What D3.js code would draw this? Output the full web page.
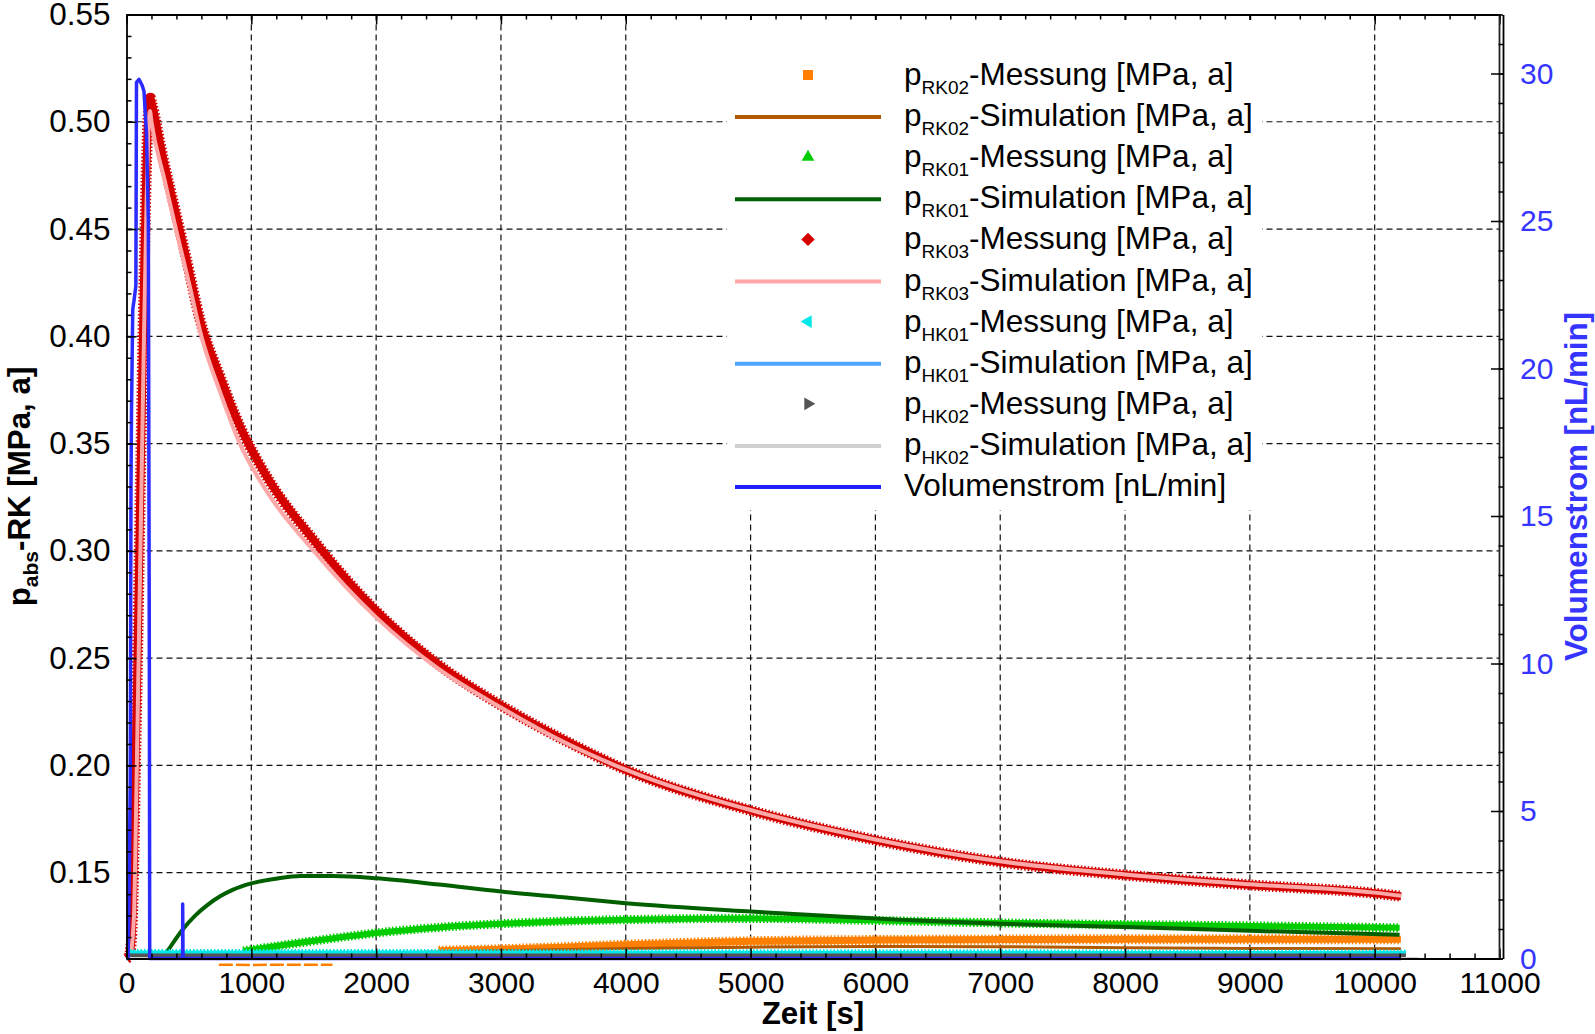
<!DOCTYPE html>
<html>
<head>
<meta charset="utf-8">
<script src="https://cdn.jsdelivr.net/npm/d3@7"></script>
<style>
  body { margin: 0; background: #fff; }
  svg { display: block; font-family: "Liberation Sans", Arial, sans-serif; }
</style>
</head>
<body>
<svg id="chart"></svg>
<script>
// ---- data ----
const xTicks = [0, 1000, 2000, 3000, 4000, 5000, 6000, 7000, 8000, 9000, 10000, 11000]
const yTicks = [0.15, 0.20, 0.25, 0.30, 0.35, 0.40, 0.45, 0.50, 0.55]
const y2Ticks = [0, 5, 10, 15, 20, 25, 30]

// RK02 (orange / brown)
const tRK02low = [740, 1000, 1300, 1650]
const pRK02low = [0.1071, 0.1070, 0.1071, 0.1071]
const tRK02m = [2500, 3000, 3500, 4000, 5000, 6000, 7000, 8000, 9000, 10210]
const pRK02m = [0.1136, 0.1143, 0.1153, 0.1164, 0.1180, 0.1186, 0.1188, 0.1190, 0.1190, 0.1190]
const tRK02s = [0, 1000, 2000, 3000, 4000, 5000, 6000, 7000, 8000, 9000, 10210]
const pRK02s = [0.1105, 0.1112, 0.1125, 0.1137, 0.1147, 0.1153, 0.1156, 0.1155, 0.1150, 0.1147, 0.1145]

// RK01 (green)
const tRK01m = [935, 1200, 1475, 2000, 2500, 3000, 3500, 4000, 5000, 6188, 7000, 8000, 9000, 10200]
const pRK01m = [0.1135, 0.1158, 0.1180, 0.1219, 0.1245, 0.1262, 0.1274, 0.1281, 0.1287, 0.1275, 0.1266, 0.1258, 0.1252, 0.1243]
const tRK01s = [300, 335, 450, 550, 650, 750, 850, 1000, 1200, 1400, 1650, 2000, 2500, 3000, 3500, 4000, 5000, 6188, 7000, 8000, 9000, 10200]
const pRK01s = [0.1110, 0.1140, 0.1235, 0.1300, 0.1350, 0.1390, 0.1420, 0.1450, 0.1472, 0.1484, 0.1484, 0.1474, 0.1445, 0.1412, 0.1385, 0.1358, 0.1319, 0.1281, 0.1262, 0.1247, 0.1229, 0.1211]

// RK03 (red / pink)
const tRK03m = [0, 25, 45, 60, 72, 85, 97, 108, 120, 132, 145, 158, 170, 182, 192, 201, 295, 388, 481, 588, 748, 908, 1121, 1500, 2000, 2500, 3000, 3500, 4000, 5000, 6000, 7000, 8000, 9000, 10000, 10212]
const pRK03m = [0.110, 0.112, 0.125, 0.160, 0.200, 0.240, 0.280, 0.320, 0.360, 0.400, 0.440, 0.475, 0.498, 0.508, 0.511, 0.509, 0.4826, 0.4593, 0.4359, 0.408, 0.3815, 0.3582, 0.3349, 0.305, 0.272, 0.247, 0.228, 0.212, 0.198, 0.179, 0.1652, 0.1550, 0.1489, 0.1443, 0.1404, 0.1390]
const tRK03s = [30, 60, 80, 100, 120, 140, 160, 175, 188, 200, 300, 400, 500, 600, 750, 900, 1120, 1500, 2000, 2500, 3000, 3500, 4000, 5000, 6000, 7000, 8000, 9000, 10000, 10212]
const pRK03s = [0.110, 0.130, 0.190, 0.260, 0.330, 0.400, 0.460, 0.495, 0.505, 0.500, 0.474, 0.449, 0.425, 0.400, 0.374, 0.351, 0.328, 0.300, 0.269, 0.245, 0.227, 0.211, 0.198, 0.1792, 0.1655, 0.1553, 0.1492, 0.1446, 0.1407, 0.1392]

// HK01 (cyan / light blue), HK02 (dark grey / light grey)
const tHK01m = [0, 2000, 4000, 6000, 8000, 10250]
const pHK01m = [0.1128, 0.1128, 0.1127, 0.1127, 0.1126, 0.1126]
const tHK01s = [0, 10250]
const pHK01s = [0.1118, 0.1118]
const tHK02m = [0, 2000, 4000, 6000, 8000, 10250]
const pHK02m = [0.1112, 0.1112, 0.1112, 0.1112, 0.1112, 0.1112]
const tHK02s = [0, 10350]
const pHK02s = [0.1102, 0.1102]

// Volumenstrom [nL/min] (right axis)
const tVol = [0, 12, 20, 30, 36, 40, 50, 60, 75, 80, 100, 125, 140, 160, 175, 183, 186, 450, 450, 453, 10210]
const qVol = [0, 0, 2, 6, 16, 18.5, 22, 22.3, 22.8, 29.7, 29.8, 29.6, 29.4, 28, 25, 10, 0, 0, 1.85, 0, 0]

// ---- layout ----
const width = 1595
const height = 1034
const plotLeft = 126.5, plotRight = 1499.5, plotTop = 14.5, plotBottom = 958.5
const tickFont = 30
const titleFont = 31.3
const legendFont = 31.5

const x = d3.scaleLinear().domain([0, 11000]).range([plotLeft, plotRight])
const y = d3.scaleLinear().domain([0.11, 0.55]).range([plotBottom, plotTop])
const y2 = d3.scaleLinear().domain([0, 32]).range([plotBottom, plotTop])

const svg = d3.select("#chart")
    .attr("width", width)
    .attr("height", height)
    .attr("viewBox", [0, 0, width, height])

// grid
svg.append("g")
    .attr("stroke", "#111")
    .attr("stroke-width", 1.2)
    .attr("stroke-dasharray", "6,4")
  .selectAll("line")
  .data(xTicks.slice(1, -1))
  .join("line")
    .attr("x1", d => x(d)).attr("x2", d => x(d))
    .attr("y1", plotTop).attr("y2", plotBottom)

svg.append("g")
    .attr("stroke", "#111")
    .attr("stroke-width", 1.2)
    .attr("stroke-dasharray", "6,4")
  .selectAll("line")
  .data(yTicks.slice(0, -1))
  .join("line")
    .attr("x1", plotLeft).attr("x2", plotRight)
    .attr("y1", d => y(d)).attr("y2", d => y(d))

const line = (ts, ps) => d3.line()
    .x(i => x(ts[i]))
    .y(i => y(ps[i]))
    .curve(d3.curveMonotoneX)(d3.range(ts.length))

function series(ts, ps, color, w, jagged) {
  if (jagged) {
    svg.append("path")
        .attr("fill", "none")
        .attr("stroke", color)
        .attr("stroke-width", w + 3)
        .attr("stroke-dasharray", "1.5,2")
        .attr("d", line(ts, ps))
  }
  svg.append("path")
      .attr("fill", "none")
      .attr("stroke", color)
      .attr("stroke-width", w)
      .attr("stroke-linejoin", "round")
      .attr("d", line(ts, ps))
}

svg.append("path")
    .attr("fill", "none")
    .attr("stroke", "#ff8000")
    .attr("stroke-width", 2.5)
    .attr("stroke-dasharray", "14,3")
    .attr("d", line(tRK02low, pRK02low))
series(tRK02m, pRK02m, "#ff8000", 7, true)
series(tRK02s, pRK02s, "#b35900", 3, false)
series(tRK01m, pRK01m, "#00cc00", 6, true)
series(tRK01s, pRK01s, "#006000", 4, false)
series(tRK03m, pRK03m, "#d40000", 8, true)
series(tRK03s, pRK03s, "#ffa8a8", 4, false)
series(tHK01m, pHK01m, "#00e8e8", 4, true)
series(tHK01s, pHK01s, "#4da6ff", 2, false)
series(tHK02m, pHK02m, "#555555", 5, false)
series(tHK02s, pHK02s, "#d0d0d0", 2, false)

svg.append("path")
    .attr("fill", "none")
    .attr("stroke", "#2b2bff")
    .attr("stroke-width", 3.5)
    .attr("stroke-linejoin", "round")
    .attr("d", d3.line()
        .x(i => x(tVol[i]))
        .y(i => y2(qVol[i]))(d3.range(tVol.length)))

// axes
const styleAxis = g => g
    .attr("font-size", tickFont)
    .attr("font-family", null)
    .call(g => g.selectAll(".tick line").attr("stroke-width", 1.5))
    .call(g => g.select(".domain").attr("stroke-width", 1.8))

svg.append("g")
    .attr("transform", `translate(0,${plotBottom})`)
    .call(d3.axisBottom(x).tickValues(d3.range(0, 11001, 200)).tickSizeInner(-5).tickSizeOuter(0).tickFormat(""))
    .call(styleAxis)
svg.append("g")
    .attr("transform", `translate(0,${plotBottom})`)
    .call(d3.axisBottom(x).tickValues(xTicks).tickSizeInner(-10).tickSizeOuter(0).tickPadding(13).tickFormat(d3.format("d")))
    .call(styleAxis)
    .call(g => g.select(".domain").remove())

svg.append("g")
    .attr("transform", `translate(0,${plotTop})`)
    .call(d3.axisTop(x).tickValues(d3.range(0, 11001, 200)).tickSizeInner(-5).tickSizeOuter(0).tickFormat(""))
    .call(styleAxis)
svg.append("g")
    .attr("transform", `translate(0,${plotTop})`)
    .call(d3.axisTop(x).tickValues(xTicks).tickSizeInner(-10).tickSizeOuter(0).tickFormat(""))
    .call(styleAxis)
    .call(g => g.select(".domain").remove())

svg.append("g")
    .attr("transform", `translate(${plotLeft},0)`)
    .call(d3.axisLeft(y).tickValues(d3.range(11, 56).map(i => i / 100)).tickSizeInner(-5).tickSizeOuter(0).tickFormat(""))
    .call(styleAxis)
svg.append("g")
    .attr("transform", `translate(${plotLeft},0)`)
    .call(d3.axisLeft(y).tickValues(yTicks).tickSizeInner(-10).tickSizeOuter(0).tickPadding(16).tickFormat(d3.format(".2f")))
    .call(styleAxis)
    .call(g => g.select(".domain").remove())
    .call(g => g.selectAll("text").attr("font-size", 31.5))

svg.append("line")
    .attr("x1", plotRight).attr("x2", plotRight)
    .attr("y1", plotTop).attr("y2", plotBottom)
    .attr("stroke", "#222").attr("stroke-width", 1.8)

svg.append("g")
    .attr("transform", `translate(${plotRight + 3.5},0)`)
    .call(d3.axisRight(y2).tickValues(d3.range(0, 33)).tickSizeInner(-4.5).tickSizeOuter(0).tickFormat(""))
    .call(styleAxis)
svg.append("g")
    .attr("transform", `translate(${plotRight + 3.5},0)`)
    .style("color", "#3535ff")
    .call(d3.axisRight(y2).tickValues(y2Ticks).tickSizeInner(-12).tickSizeOuter(0).tickPadding(17))
    .call(styleAxis)
    .call(g => g.select(".domain").remove())
    .call(g => g.selectAll(".tick line").attr("stroke", "#000"))

// axis titles
svg.append("text")
    .attr("x", (plotLeft + plotRight) / 2)
    .attr("y", 1024)
    .attr("text-anchor", "middle")
    .attr("font-size", titleFont)
    .attr("font-weight", "bold")
    .text("Zeit [s]")

const yTitle = svg.append("text")
    .attr("transform", `translate(30,${(plotTop + plotBottom) / 2}) rotate(-90)`)
    .attr("text-anchor", "middle")
    .attr("font-size", titleFont)
    .attr("font-weight", "bold")
yTitle.append("tspan").text("p")
yTitle.append("tspan").attr("font-size", 21).attr("dy", 8).text("abs")
yTitle.append("tspan").attr("dy", -8).text("-RK [MPa, a]")

svg.append("text")
    .attr("transform", `translate(1587,${(plotTop + plotBottom) / 2}) rotate(-90)`)
    .attr("text-anchor", "middle")
    .attr("font-size", titleFont)
    .attr("font-weight", "bold")
    .attr("fill", "#3535ff")
    .text("Volumenstrom [nL/min]")

// legend
const legendRows = [
  { sub: "RK02", kind: "Messung", color: "#ff8000", sym: d3.symbolSquare, size: 100, rot: 0 },
  { sub: "RK02", kind: "Simulation", color: "#b35900" },
  { sub: "RK01", kind: "Messung", color: "#00cc00", sym: d3.symbolTriangle, size: 70, rot: 0 },
  { sub: "RK01", kind: "Simulation", color: "#006000" },
  { sub: "RK03", kind: "Messung", color: "#d40000", sym: d3.symbolSquare, size: 90, rot: 45 },
  { sub: "RK03", kind: "Simulation", color: "#ffa8a8" },
  { sub: "HK01", kind: "Messung", color: "#00e8e8", sym: d3.symbolTriangle, size: 70, rot: -90 },
  { sub: "HK01", kind: "Simulation", color: "#4da6ff" },
  { sub: "HK02", kind: "Messung", color: "#555555", sym: d3.symbolTriangle, size: 70, rot: 90 },
  { sub: "HK02", kind: "Simulation", color: "#d0d0d0" },
  { sub: null, kind: "Volumenstrom [nL/min]", color: "#2020ff" },
]

const legend = svg.append("g")
legend.append("rect")
    .attr("x", 727).attr("y", 20)
    .attr("width", 535).attr("height", 490)
    .attr("fill", "#fff")

const rows = legend.selectAll("g")
  .data(legendRows)
  .join("g")
    .attr("transform", (d, i) => `translate(0,${73 + i * 41.1})`)

rows.filter(d => d.sym)
  .append("path")
    .attr("transform", d => `translate(808,2) rotate(${d.rot})`)
    .attr("d", d => d3.symbol(d.sym, d.size)())
    .attr("fill", d => d.color)

rows.filter(d => !d.sym)
  .append("line")
    .attr("x1", 735).attr("x2", 881)
    .attr("y1", 3).attr("y2", 3)
    .attr("stroke", d => d.color)
    .attr("stroke-width", 4)

const labels = rows.append("text")
    .attr("x", 904)
    .attr("y", 12)
    .attr("font-size", legendFont)
labels.filter(d => d.sub).each(function (d) {
  const t = d3.select(this)
  t.append("tspan").text("p")
  t.append("tspan").attr("font-size", 19).attr("dy", 9).text(d.sub)
  t.append("tspan").attr("dy", -9).text(`-${d.kind} [MPa, a]`)
})
labels.filter(d => !d.sub).text(d => d.kind)
</script>
</body>
</html>
